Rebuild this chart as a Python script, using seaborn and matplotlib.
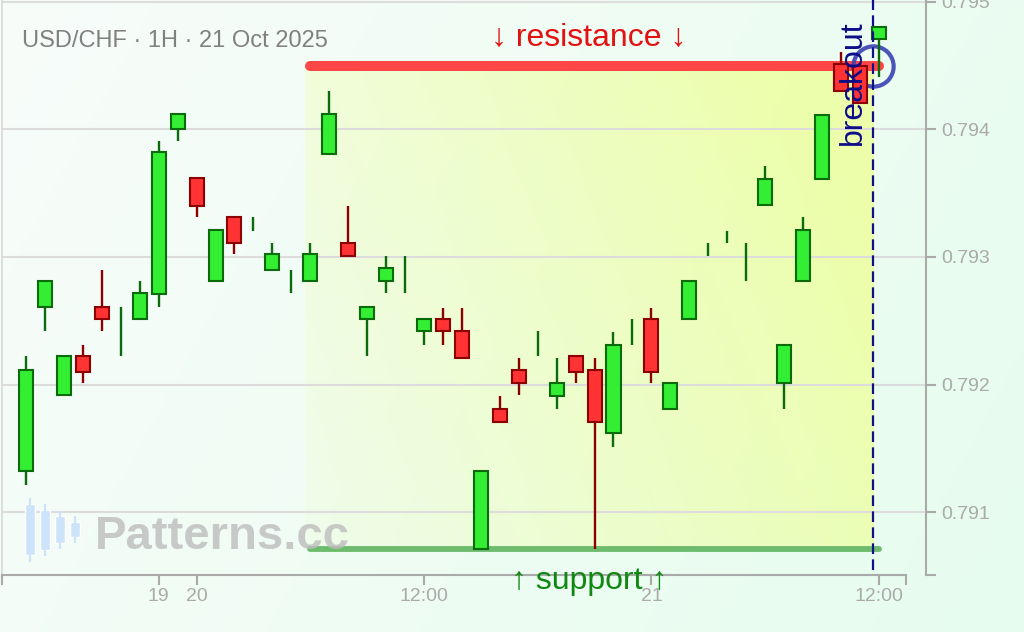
import numpy as np
import pandas as pd
import matplotlib
matplotlib.use("Agg")
import matplotlib.pyplot as plt
import seaborn as sns

# giao dien
sns.set_theme(style="ticks")
plt.rcParams['font.family'] = ['Liberation Sans', 'DejaVu Sans']

# USD/CHF 1H candles
opens = [0.79132, 0.79261, 0.79192, 0.79222, 0.79261, 0.79240, 0.79251, 0.79271,
         0.79400, 0.79362, 0.79281, 0.79331, 0.79325, 0.79290, 0.79280, 0.79281,
         0.79381, 0.79311, 0.79251, 0.79281, 0.79290, 0.79242, 0.79251, 0.79242,
         0.79071, 0.79181, 0.79211, 0.79232, 0.79191, 0.79222, 0.79211, 0.79162,
         0.79240, 0.79251, 0.79181, 0.79251, 0.79305, 0.79315, 0.79295, 0.79341,
         0.79201, 0.79281, 0.79361, 0.79451, 0.79450, 0.79471]
highs = [0.79222, 0.79281, 0.79222, 0.79231, 0.79290, 0.79261, 0.79281, 0.79391,
         0.79412, 0.79362, 0.79321, 0.79331, 0.79331, 0.79311, 0.79290, 0.79311,
         0.79430, 0.79340, 0.79261, 0.79301, 0.79301, 0.79251, 0.79260, 0.79260,
         0.79132, 0.79191, 0.79221, 0.79242, 0.79221, 0.79222, 0.79221, 0.79241,
         0.79251, 0.79260, 0.79201, 0.79281, 0.79311, 0.79320, 0.79311, 0.79371,
         0.79231, 0.79331, 0.79411, 0.79461, 0.79452, 0.79480]
lows = [0.79121, 0.79242, 0.79192, 0.79201, 0.79242, 0.79222, 0.79251, 0.79261,
        0.79391, 0.79331, 0.79281, 0.79302, 0.79320, 0.79290, 0.79272, 0.79281,
        0.79381, 0.79301, 0.79222, 0.79272, 0.79272, 0.79231, 0.79231, 0.79221,
        0.79071, 0.79171, 0.79192, 0.79222, 0.79181, 0.79201, 0.79071, 0.79151,
        0.79231, 0.79201, 0.79181, 0.79251, 0.79301, 0.79311, 0.79281, 0.79341,
        0.79181, 0.79281, 0.79361, 0.79430, 0.79421, 0.79441]
closes = [0.79211, 0.79281, 0.79222, 0.79210, 0.79251, 0.79240, 0.79272, 0.79382,
          0.79412, 0.79340, 0.79321, 0.79311, 0.79325, 0.79302, 0.79280, 0.79302,
          0.79412, 0.79301, 0.79261, 0.79291, 0.79290, 0.79251, 0.79242, 0.79221,
          0.79132, 0.79171, 0.79201, 0.79232, 0.79201, 0.79210, 0.79171, 0.79231,
          0.79240, 0.79210, 0.79201, 0.79281, 0.79305, 0.79315, 0.79295, 0.79361,
          0.79231, 0.79321, 0.79411, 0.79430, 0.79421, 0.79480]

tick_pos = [7, 9, 21, 33, 45]
tick_labels = ['19', '20', '12:00', '21', '12:00']
price_ticks = [0.791, 0.792, 0.793, 0.794, 0.795]

resistance = 0.7945
support = 0.79071
zone = (14.7, 44.7)        # shaded pattern range
level_span = (15, 45)      # resistance / support lines
breakout_at = 44.7

df = pd.DataFrame({'open': opens, 'high': highs, 'low': lows, 'close': closes})
df['x'] = np.arange(len(df))
df['up'] = df['close'] >= df['open']

XMIN, XMAX, XEND = -1.267, 47.49, 46.42
YMIN, YMAX = 0.790507, 0.795014

fig = plt.figure(figsize=(10.24, 6.32), dpi=100)

# nen mau xanh nhat
bg = fig.add_axes([0, 0, 1, 1], zorder=-10)
gx, gy = np.meshgrid(np.linspace(0, 1, 200), np.linspace(0, 1, 120))
t = np.clip(0.75 * gx + 0.25 * (1 - gy), 0, 1)
c0 = np.array([248, 253, 250]) / 255
c1 = np.array([230, 252, 238]) / 255
bg.imshow(c0 + (c1 - c0) * t[..., None], extent=[0, 1, 0, 1], aspect='auto', origin='lower')
bg.axis('off')

ax = fig.add_axes([2 / 1024, 57 / 632, 924 / 1024, 575 / 632])
ax.set_facecolor('none')

# vung gradient vang giua support va resistance
zx, zy = np.meshgrid(np.linspace(0, 1, 200), np.linspace(0, 1, 120))
alpha = np.clip(0.1 + 0.62 * zx + 0.22 * zy, 0, 0.85)
rgba = np.zeros(zx.shape + (4,))
rgba[..., 0] = 0.93
rgba[..., 1] = 1.0
rgba[..., 2] = 0.62
rgba[..., 3] = alpha
ax.imshow(rgba, extent=[zone[0], zone[1], support, resistance], aspect='auto',
          origin='lower', zorder=0.5)

for p in price_ticks:
    ax.axhline(p, color='#dcdcdc', lw=1.5, zorder=1)

ax.plot(level_span, [resistance, resistance], color='#ff4646', lw=7.2,
        solid_capstyle='round', zorder=2)
ax.plot(level_span, [support, support], color='#6dbb6d', lw=4.2,
        solid_capstyle='round', zorder=2)

# breakout circle (below candles)
ax.plot(breakout_at, resistance, 'o', ms=29, mfc='none', mec='#3a42b2',
        mew=3, alpha=0.9, zorder=2.5)

# nen
wick_col = np.where(df['up'], '#0b6b0b', '#8b0000')
ax.vlines(df['x'], df['low'], df['high'], colors=wick_col, lw=1.7, zorder=3)
body = df[(df['close'] - df['open']).abs() > 1e-6]
ax.bar(body['x'], (body['close'] - body['open']).abs(),
       bottom=body[['open', 'close']].min(axis=1), width=0.74,
       color=np.where(body['up'], '#33ee33', '#ff3333'),
       edgecolor=np.where(body['up'], '#0b6b0b', '#8b0000'),
       linewidth=1.5, zorder=4)

# breakout
ax.vlines(breakout_at, 0.790544, YMAX, colors='#101088', lw=1.6,
          linestyles=(0, (4.8, 2.4)), zorder=5)
ax.text(43.64, 0.794367, 'breakout', rotation=90, ha='center', va='center',
        fontsize=23, color='#0c0c88', zorder=7)

mid = (zone[0] + zone[1]) / 2
ax.text(mid, 0.794661, '↓ resistance ↓', ha='center', va='baseline',
        fontsize=23, color='#e31212', zorder=7)
ax.text(mid, 0.79040, '↑ support ↑', ha='center', va='baseline',
        fontsize=23, color='#118811', clip_on=False, zorder=7)

ax.set_xlim(XMIN, XMAX)
ax.set_ylim(YMIN, YMAX)

ax.set_xticks(tick_pos)
ax.set_xticklabels(tick_labels)
ax.set_xticks([XMIN, XEND], minor=True)
ax.yaxis.tick_right()
ax.set_yticks(price_ticks)
ax.set_yticklabels([f'{p:.3f}' for p in price_ticks])
ax.set_yticks([YMIN], minor=True)
ax.tick_params(axis='x', which='both', bottom=True, top=False, length=7.2,
               width=1.5, color='#aaaaaa', labelcolor='#aaaaaa', labelsize=14, pad=2)
ax.tick_params(axis='y', which='both', right=True, left=False, length=7.2,
               width=1.5, color='#aaaaaa', labelcolor='#aaaaaa', labelsize=14, pad=4)

ax.spines['top'].set_visible(False)
ax.spines['bottom'].set_bounds(XMIN, XEND)
for s in ['bottom', 'right']:
    ax.spines[s].set_color('#aaaaaa')
    ax.spines[s].set_linewidth(1.5)
ax.spines['left'].set_color('#d8d8d8')
ax.spines['left'].set_linewidth(1.2)

fig.text(22 / 1024, 1 - 41 / 632, 'USD/CHF · 1H · 21 Oct 2025', fontsize=17,
         color='#808080', ha='left', va='center')

# watermark
logo = fig.add_axes([22 / 1024, 1 - 565 / 632, 61 / 1024, 70 / 632])
logo_x = [30, 45, 60, 75]
logo_wick = [(498, 562), (504, 556), (511, 549), (516, 543)]
logo_body = [(504, 555), (510, 550), (516, 543), (522, 537)]
for xx, (w0, w1), (b0, b1) in zip(logo_x, logo_wick, logo_body):
    logo.vlines(xx, w0, w1, colors='#cde3fa', lw=1.6)
    logo.bar(xx, b1 - b0, bottom=b0, width=10, color='#cde3fa')
logo.set_xlim(22, 83)
logo.set_ylim(565, 495)
logo.axis('off')
fig.text(95 / 1024, 1 - 549 / 632, 'Patterns.cc', fontsize=34, fontweight='bold',
         color='#bdbdbd', alpha=0.8, ha='left', va='baseline')

fig.savefig('out.png', dpi=100)
